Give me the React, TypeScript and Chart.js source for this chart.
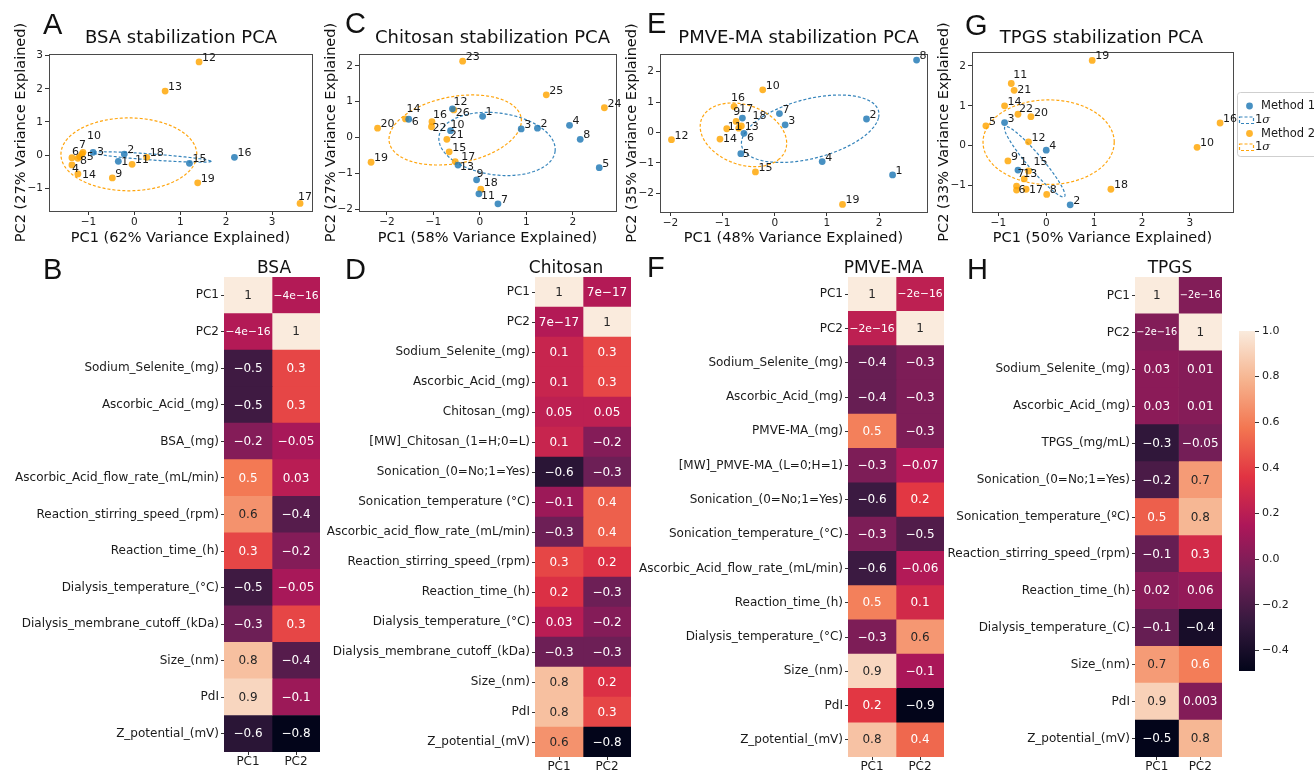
import React, { useEffect, useRef } from 'react';
import { Chart, registerables } from 'chart.js';

Chart.register(...registerables);

const FONT = '"DejaVu Sans", "Noto Sans", sans-serif';
const LETTER_FONT = '"Liberation Sans", Arial, sans-serif';
Chart.defaults.font.family = FONT;

const BLUE = 'rgba(31,119,180,0.82)';
const ORANGE = 'rgba(255,165,0,0.82)';
const BLUE_DASH = 'rgba(31,119,180,0.9)';
const ORANGE_DASH = 'rgba(255,160,0,0.95)';
const TEXT = '#1a1a1a';

// ================= PCA scatter data =================
// BSA
const bsaM1Ids = ['1', '2', '3', '15', '16'];
const bsaM1X = [-0.35, -0.22, -0.9, 1.2, 2.18];
const bsaM1Y = [-0.19, 0.03, 0.08, -0.25, -0.07];
const bsaM2Ids = ['4', '5', '6', '7', '8', '9', '10', '11', '12', '13', '14', '17', '18', '19'];
const bsaM2X = [-1.36, -1.19, -1.36, -1.12, -1.23, -0.48, -1.14, -0.05, 1.41, 0.67, -1.23, 3.61, 0.27, 1.38];
const bsaM2Y = [-0.3, -0.05, -0.08, 0.08, -0.1, -0.69, 0.03, -0.28, 2.81, 1.93, -0.57, -1.46, -0.07, -0.84];
const bsaSigma1 = [0.385, -0.06, 1.285, -0.13, 0, 0.09];
const bsaSigma2 = [-0.12, 0.02, 1.48, 0, 0, 1.1];

// Chitosan
const chiM1Ids = ['1', '2', '3', '4', '5', '6', '7', '8', '9', '10', '11', '12', '13'];
const chiM1X = [0.06, 1.24, 0.89, 1.93, 2.57, -1.53, 0.39, 2.16, -0.07, -0.63, -0.02, -0.59, -0.47];
const chiM1Y = [0.59, 0.26, 0.24, 0.34, -0.84, 0.51, -1.85, -0.05, -1.18, 0.19, -1.57, 0.8, -0.77];
const chiM2Ids = ['14', '15', '16', '17', '18', '19', '20', '21', '22', '23', '24', '25', '26'];
const chiM2X = [-1.6, -0.66, -1.03, -0.53, 0.02, -2.34, -2.2, -0.71, -1.04, -0.37, 2.68, 1.43, -0.56];
const chiM2Y = [0.52, -0.4, 0.44, -0.67, -1.44, -0.69, 0.26, -0.05, 0.3, 2.13, 0.83, 1.19, 0.77];
const chiSigma1 = [0.37, -0.18, 1.25, -0.195, -0.065, -0.86];
const chiSigma2 = [-0.53, 0.21, 1.42, 0.33, 0.11, -0.92];

// PMVE-MA
const pmvM1Ids = ['1', '2', '3', '4', '5', '6', '7', '8', '18'];
const pmvM1X = [2.26, 1.76, 0.2, 0.91, -0.65, -0.59, 0.09, 2.72, -0.62];
const pmvM1Y = [-1.4, 0.44, 0.25, -0.96, -0.7, -0.03, 0.62, 2.38, 0.47];
const pmvM2Ids = ['9', '10', '11', '12', '13', '14', '15', '16', '17', '19'];
const pmvM2X = [-0.74, -0.23, -0.92, -1.98, -0.69, -1.05, -0.37, -0.78, -0.64, 1.3];
const pmvM2Y = [0.36, 1.4, 0.12, -0.24, 0.14, -0.22, -1.3, 0.85, 0.21, -2.37];
const pmvSigma1 = [0.68, 0.12, 1.31, 0.36, -0.15, -1.05];
const pmvSigma2 = [-0.6, -0.08, 0.69, -0.79, -0.46, -0.69];

// TPGS
const tpgM1Ids = ['1', '2', '3', '4'];
const tpgM1X = [-0.59, 0.5, -0.87, 0.0];
const tpgM1Y = [-0.61, -1.48, 0.58, -0.11];
const tpgM2Ids = ['5', '6', '7', '8', '9', '10', '11', '12', '13', '14', '15', '16', '17', '18', '19', '20', '21', '22'];
const tpgM2X = [-1.26, -0.62, -0.62, 0.01, -0.8, 3.15, -0.73, -0.37, -0.46, -0.87, -0.37, 3.63, -0.42, 1.35, 0.96, -0.32, -0.67, -0.59];
const tpgM2Y = [0.5, -1.11, -1.01, -1.22, -0.38, -0.04, 1.56, 0.1, -0.83, 1.0, -0.63, 0.57, -1.09, -1.09, 2.14, 0.73, 1.39, 0.79];
const tpgSigma1 = [-0.24, -0.4, 0.62, -0.875, 0.12, 0.12];
const tpgSigma2 = [0.05, 0.09, 1.37, 0, 0, 1.06];

// label nudges (pixels) for crowded point labels
const bsaNudge: Record<string, number[]> = { '6': [0, -3], '7': [-4, -4], '10': [5, -15], '5': [7, 3], '8': [2, 6], '4': [0, 7], '14': [4, 4], '17': [-2, -3], '1': [3, 4], '3': [4, 3] };
const chiNudge: Record<string, number[]> = { '26': [2, 6], '16': [1, -4], '22': [1, 4], '14': [1, -7], '6': [3, 6], '10': [0, -3], '17': [6, -2], '13': [2, 5], '9': [0, -3], '18': [3, -3], '11': [2, 5], '12': [1, -4] };
const pmvNudge: Record<string, number[]> = { '16': [-3, -6], '9': [-3, -6], '17': [-2, -14], '18': [10, 1], '11': [1, 1], '13': [6, 2], '6': [3, 8], '14': [3, 3], '5': [2, 3] };
const tpgNudge: Record<string, number[]> = { '11': [2, -6], '21': [3, 3], '22': [1, -2], '1': [2, -5], '15': [5, -6], '13': [-1, -2], '7': [1, -9], '6': [2, 3], '17': [3, 4] };

// ================= Heatmap data =================
const heatCols = ['PC1', 'PC2'];

const bsaRows = ['PC1', 'PC2', 'Sodium_Selenite_(mg)', 'Ascorbic_Acid_(mg)', 'BSA_(mg)', 'Ascorbic_Acid_flow_rate_(mL/min)', 'Reaction_stirring_speed_(rpm)', 'Reaction_time_(h)', 'Dialysis_temperature_(°C)', 'Dialysis_membrane_cutoff_(kDa)', 'Size_(nm)', 'PdI', 'Z_potential_(mV)'];
const bsaPC1 = [1, -4e-16, -0.5, -0.5, -0.2, 0.5, 0.6, 0.3, -0.5, -0.3, 0.8, 0.9, -0.6];
const bsaPC2 = [-4e-16, 1, 0.3, 0.3, -0.05, 0.03, -0.4, -0.2, -0.05, 0.3, -0.4, -0.1, -0.8];

const chiRows = ['PC1', 'PC2', 'Sodium_Selenite_(mg)', 'Ascorbic_Acid_(mg)', 'Chitosan_(mg)', '[MW]_Chitosan_(1=H;0=L)', 'Sonication_(0=No;1=Yes)', 'Sonication_temperature (°C)', 'Ascorbic_acid_flow_rate_(mL/min)', 'Reaction_stirring_speed_(rpm)', 'Reaction_time_(h)', 'Dialysis_temperature_(°C)', 'Dialysis_membrane_cutoff_(kDa)', 'Size_(nm)', 'PdI', 'Z_potential_(mV)'];
const chiPC1 = [1, 7e-17, 0.1, 0.1, 0.05, 0.1, -0.6, -0.1, -0.3, 0.3, 0.2, 0.03, -0.3, 0.8, 0.8, 0.6];
const chiPC2 = [7e-17, 1, 0.3, 0.3, 0.05, -0.2, -0.3, 0.4, 0.4, 0.2, -0.3, -0.2, -0.3, 0.2, 0.3, -0.8];

const pmvRows = ['PC1', 'PC2', 'Sodium_Selenite_(mg)', 'Ascorbic_Acid_(mg)', 'PMVE-MA_(mg)', '[MW]_PMVE-MA_(L=0;H=1)', 'Sonication_(0=No;1=Yes)', 'Sonication_temperature_(°C)', 'Ascorbic_Acid_flow_rate_(mL/min)', 'Reaction_time_(h)', 'Dialysis_temperature_(°C)', 'Size_(nm)', 'PdI', 'Z_potential_(mV)'];
const pmvPC1 = [1, -2e-16, -0.4, -0.4, 0.5, -0.3, -0.6, -0.3, -0.6, 0.5, -0.3, 0.9, 0.2, 0.8];
const pmvPC2 = [-2e-16, 1, -0.3, -0.3, -0.3, -0.07, 0.2, -0.5, -0.06, 0.1, 0.6, -0.1, -0.9, 0.4];

const tpgRows = ['PC1', 'PC2', 'Sodium_Selenite_(mg)', 'Ascorbic_Acid_(mg)', 'TPGS_(mg/mL)', 'Sonication_(0=No;1=Yes)', 'Sonication_temperature_(ºC)', 'Reaction_stirring_speed_(rpm)', 'Reaction_time_(h)', 'Dialysis_temperature_(C)', 'Size_(nm)', 'PdI', 'Z_potential_(mV)'];
const tpgPC1 = [1, -2e-16, 0.03, 0.03, -0.3, -0.2, 0.5, -0.1, 0.02, -0.1, 0.7, 0.9, -0.49];
const tpgPC2 = [-2e-16, 1, 0.01, 0.01, -0.05, 0.7, 0.8, 0.3, 0.06, -0.4, 0.6, 0.003, 0.8];

const cbTicks = [-0.4, -0.2, 0.0, 0.2, 0.4, 0.6, 0.8, 1.0];

// ================= helpers =================
const ROCKET = ['#03051a', '#35193e', '#701f57', '#ad1759', '#e13342', '#f37651', '#f6b48f', '#faebdd'];
const hexRgb = (h: string) => [parseInt(h.slice(1, 3), 16), parseInt(h.slice(3, 5), 16), parseInt(h.slice(5, 7), 16)];
const ROCKET_RGB = ROCKET.map(hexRgb);
function rocket(t: number): number[] {
  const tt = Math.max(0, Math.min(1, t)) * (ROCKET_RGB.length - 1);
  const i = Math.min(ROCKET_RGB.length - 2, Math.floor(tt));
  const f = tt - i;
  const a = ROCKET_RGB[i], b = ROCKET_RGB[i + 1];
  return [0, 1, 2].map((k) => Math.round(a[k] + (b[k] - a[k]) * f));
}
const css = (c: number[]) => `rgb(${c[0]},${c[1]},${c[2]})`;
function relLum(c: number[]) {
  const f = (v: number) => { v /= 255; return v <= 0.03928 ? v / 12.92 : Math.pow((v + 0.055) / 1.055, 2.4); };
  return 0.2126 * f(c[0]) + 0.7152 * f(c[1]) + 0.0722 * f(c[2]);
}
function fmt1g(v: number) {
  if (v === 0) return '0';
  const s = Math.abs(v) < 1e-4 ? v.toExponential(0) : String(Number(v.toPrecision(1)));
  return s.replace(/-/g, '\u2212');
}
const fmtTick = (v: any) => String(v).replace('-', '\u2212');

type Box = { left: number; top: number; width: number; height: number };
type Area = { left: number; top: number; right: number; bottom: number };

interface PcaSpec {
  box: Box; area: Area;
  xr: number[]; yr: number[];
  xlabel: string; ylabel: string;
  m1Ids: string[]; m1X: number[]; m1Y: number[];
  m2Ids: string[]; m2X: number[]; m2Y: number[];
  s1: number[]; s2: number[];
  nudge: Record<string, number[]>;
  legend?: boolean;
}

function pcaConfig(s: PcaSpec): any {
  const { box, area } = s;
  const framePlugin = {
    id: 'frame',
    beforeDatasetsDraw(chart: any) {
      const { ctx, chartArea: ca } = chart;
      ctx.save();
      ctx.strokeStyle = '#4a4a4a';
      ctx.lineWidth = 1;
      ctx.strokeRect(Math.round(ca.left) + 0.5, Math.round(ca.top) + 0.5, Math.round(ca.right - ca.left), Math.round(ca.bottom - ca.top));
      ctx.restore();
    },
  };
  const ellipsePlugin = {
    id: 'sigma',
    beforeDatasetsDraw(chart: any) {
      const { ctx } = chart;
      const xs = chart.scales.x, ys = chart.scales.y;
      ctx.save();
      ctx.lineWidth = 1.2;
      ctx.setLineDash([3, 2]);
      ([[s.s1, BLUE_DASH], [s.s2, ORANGE_DASH]] as any[]).forEach(([e, col]) => {
        ctx.strokeStyle = col;
        ctx.beginPath();
        for (let k = 0; k <= 180; k++) {
          const t = (k / 180) * Math.PI * 2;
          const X = e[0] + e[2] * Math.cos(t) + e[4] * Math.sin(t);
          const Y = e[1] + e[3] * Math.cos(t) + e[5] * Math.sin(t);
          const px = xs.getPixelForValue(X), py = ys.getPixelForValue(Y);
          if (k === 0) ctx.moveTo(px, py); else ctx.lineTo(px, py);
        }
        ctx.closePath();
        ctx.stroke();
      });
      ctx.restore();
    },
  };
  const labelPlugin = {
    id: 'ptLabels',
    afterDatasetsDraw(chart: any) {
      const { ctx } = chart;
      ctx.save();
      ctx.font = `11px ${FONT}`;
      ctx.fillStyle = TEXT;
      ctx.textAlign = 'left';
      ctx.textBaseline = 'alphabetic';
      [s.m1Ids, s.m2Ids].forEach((ids, d) => {
        chart.getDatasetMeta(d).data.forEach((el: any, i: number) => {
          const n = s.nudge[ids[i]] || [3, -1];
          ctx.fillText(ids[i], el.x + n[0], el.y + n[1]);
        });
      });
      ctx.restore();
    },
  };
  const legendPlugin = {
    id: 'customLegend',
    afterDraw(chart: any) {
      if (!s.legend) return;
      const { ctx } = chart;
      const ox = box.left, oy = box.top;
      ctx.save();
      ctx.translate(-ox, -oy);
      ctx.fillStyle = 'rgba(255,255,255,0.9)';
      ctx.strokeStyle = '#cfcfcf';
      ctx.lineWidth = 1;
      const bx = 1237.5, by = 92.5, bw = 90, bh = 64, r = 3;
      ctx.beginPath();
      ctx.moveTo(bx + r, by); ctx.lineTo(bx + bw - r, by); ctx.arcTo(bx + bw, by, bx + bw, by + r, r);
      ctx.lineTo(bx + bw, by + bh - r); ctx.arcTo(bx + bw, by + bh, bx + bw - r, by + bh, r);
      ctx.lineTo(bx + r, by + bh); ctx.arcTo(bx, by + bh, bx, by + bh - r, r);
      ctx.lineTo(bx, by + r); ctx.arcTo(bx, by, bx + r, by, r);
      ctx.closePath(); ctx.fill(); ctx.stroke();
      const items = [
        { kind: 'dot', col: BLUE, text: 'Method 1', y: 106 },
        { kind: 'box', col: BLUE_DASH, text: '1', y: 120 },
        { kind: 'dot', col: ORANGE, text: 'Method 2', y: 133.5 },
        { kind: 'box', col: ORANGE_DASH, text: '1', y: 147 },
      ];
      ctx.textBaseline = 'middle';
      ctx.textAlign = 'left';
      items.forEach((it) => {
        if (it.kind === 'dot') {
          ctx.fillStyle = it.col;
          ctx.beginPath(); ctx.arc(1249.5, it.y, 3.4, 0, Math.PI * 2); ctx.fill();
          ctx.fillStyle = TEXT;
          ctx.font = `11.5px ${FONT}`;
          ctx.fillText(it.text, 1261, it.y + 0.5);
        } else {
          ctx.strokeStyle = it.col; ctx.lineWidth = 1.2; ctx.setLineDash([3, 2]);
          ctx.strokeRect(1239.5, it.y - 3, 14, 6.5);
          ctx.setLineDash([]);
          ctx.fillStyle = TEXT;
          ctx.font = `11.5px ${FONT}`;
          ctx.fillText('1', 1255, it.y + 0.5);
          const w = ctx.measureText('1').width;
          ctx.font = `italic 11.5px "DejaVu Serif", serif`;
          ctx.fillText('\u03c3', 1255 + w, it.y + 0.5);
        }
      });
      ctx.restore();
    },
  };
  const tickFont = { family: FONT, size: 10.5 };
  const titleFont = { family: FONT, size: 14.5 };
  return {
    type: 'scatter',
    data: {
      datasets: [
        { label: 'Method 1', data: s.m1Ids.map((_, i) => ({ x: s.m1X[i], y: s.m1Y[i] })), backgroundColor: BLUE, borderWidth: 0, pointRadius: 3.4 },
        { label: 'Method 2', data: s.m2Ids.map((_, i) => ({ x: s.m2X[i], y: s.m2Y[i] })), backgroundColor: ORANGE, borderWidth: 0, pointRadius: 3.4 },
      ],
    },
    options: {
      responsive: false,
      animation: false,
      devicePixelRatio: 1,
      layout: { padding: { left: 0, top: area.top - box.top, right: box.left + box.width - area.right, bottom: 0 } },
      plugins: { legend: { display: false }, tooltip: { enabled: false } },
      scales: {
        x: {
          type: 'linear', min: s.xr[0], max: s.xr[1],
          afterFit: (sc: any) => { sc.height = box.top + box.height - area.bottom; },
          ticks: { stepSize: 1, includeBounds: false, font: tickFont, color: '#222', padding: 1, callback: fmtTick, maxRotation: 0 },
          grid: { drawOnChartArea: false, tickLength: 4, color: '#333' },
          border: { display: false },
          title: { display: true, text: s.xlabel, font: titleFont, color: '#111', padding: { top: 0, bottom: 3 } },
        },
        y: {
          type: 'linear', min: s.yr[0], max: s.yr[1],
          afterFit: (sc: any) => { sc.width = area.left - box.left; },
          ticks: { stepSize: 1, includeBounds: false, font: tickFont, color: '#222', padding: 2, callback: fmtTick },
          grid: { drawOnChartArea: false, tickLength: 4, color: '#333' },
          border: { display: false },
          title: { display: true, text: s.ylabel, font: titleFont, color: '#111', padding: { top: 13, bottom: 0 } },
        },
      },
    },
    plugins: [framePlugin, ellipsePlugin, labelPlugin, legendPlugin],
  };
}

interface HeatSpec { box: Box; area: Area; rows: string[]; pc1: number[]; pc2: number[] }

function heatConfig(h: HeatSpec): any {
  const { box, area } = h;
  const vals = [h.pc1, h.pc2];
  const vmin = Math.min(...h.pc1, ...h.pc2);
  const vmax = Math.max(...h.pc1, ...h.pc2);
  const colorOf = (v: number) => rocket((v - vmin) / (vmax - vmin));
  const annotPlugin = {
    id: 'annot',
    afterDatasetsDraw(chart: any) {
      const { ctx } = chart;
      const xs = chart.scales.x;
      const cw = Math.abs(xs.getPixelForValue(1) - xs.getPixelForValue(0));
      ctx.save();
      ctx.textAlign = 'center';
      ctx.textBaseline = 'middle';
      vals.forEach((arr, d) => {
        chart.getDatasetMeta(d).data.forEach((el: any, i: number) => {
          const c = colorOf(arr[i]);
          const txt = fmt1g(arr[i]);
          let size = 12;
          ctx.font = `${size}px ${FONT}`;
          const w = ctx.measureText(txt).width;
          if (w > cw * 0.94) {
            size = (size * cw * 0.94) / w;
            ctx.font = `${size}px ${FONT}`;
          }
          ctx.fillStyle = relLum(c) > 0.408 ? '#262626' : '#ffffff';
          const p = el.getCenterPoint();
          ctx.fillText(txt, p.x, p.y + 0.5);
        });
      });
      ctx.restore();
    },
  };
  return {
    type: 'bar',
    data: {
      labels: h.rows,
      datasets: vals.map((arr, d) => ({
        label: heatCols[d],
        data: arr.map(() => 1),
        backgroundColor: arr.map((v) => css(colorOf(v))),
        borderWidth: 0,
        barPercentage: 1,
        categoryPercentage: 1,
      })),
    },
    options: {
      indexAxis: 'y',
      responsive: false,
      animation: false,
      devicePixelRatio: 1,
      layout: { padding: { left: 0, top: area.top - box.top, right: box.left + box.width - area.right, bottom: 0 } },
      plugins: { legend: { display: false }, tooltip: { enabled: false } },
      scales: {
        x: {
          type: 'linear', stacked: true, min: 0, max: 2,
          afterBuildTicks: (sc: any) => { sc.ticks = [{ value: 0.5 }, { value: 1.5 }]; },
          afterFit: (sc: any) => { sc.height = box.top + box.height - area.bottom; },
          ticks: { callback: (v: any) => heatCols[v < 1 ? 0 : 1], font: { family: FONT, size: 12 }, color: TEXT, padding: 0, maxRotation: 0, autoSkip: false },
          grid: { drawOnChartArea: false, tickLength: 3, color: '#333' },
          border: { display: false },
        },
        y: {
          type: 'category', stacked: true,
          afterFit: (sc: any) => { sc.width = area.left - box.left; },
          ticks: { font: { family: FONT, size: 12 }, color: TEXT, padding: 2, autoSkip: false },
          grid: { drawOnChartArea: false, offset: false, tickLength: 3, color: '#333' },
          border: { display: false },
        },
      },
    },
    plugins: [annotPlugin],
  };
}

function colorbarConfig(): any {
  const cbMin = Math.min(...tpgPC1, ...tpgPC2);
  const cbMax = Math.max(...tpgPC1, ...tpgPC2);
  return {
    type: 'bar',
    data: {
      labels: ['colorbar'],
      datasets: [{
        data: [[cbMin, cbMax]],
        borderWidth: 0,
        barPercentage: 1,
        categoryPercentage: 1,
        backgroundColor: (c: any) => {
          const chart = c.chart;
          if (!chart.chartArea) return '#000';
          const ys = chart.scales.y;
          const g = chart.ctx.createLinearGradient(0, ys.getPixelForValue(cbMin), 0, ys.getPixelForValue(cbMax));
          ROCKET.forEach((col, i) => g.addColorStop(i / (ROCKET.length - 1), col));
          return g;
        },
      }],
    },
    options: {
      responsive: false,
      animation: false,
      devicePixelRatio: 1,
      layout: { padding: { left: 9, top: 12, right: 0, bottom: 12 } },
      plugins: { legend: { display: false }, tooltip: { enabled: false } },
      scales: {
        x: { display: false },
        y: {
          position: 'right', min: cbMin, max: cbMax,
          afterBuildTicks: (sc: any) => { sc.ticks = cbTicks.map((v) => ({ value: v })); },
          afterFit: (sc: any) => { sc.width = 59; },
          ticks: { callback: (v: any) => Number(v).toFixed(1).replace('-', '\u2212'), font: { family: FONT, size: 11 }, color: TEXT, padding: 3 },
          grid: { drawOnChartArea: false, tickLength: 4, color: '#333' },
          border: { display: false },
        },
      },
    },
  };
}

const pcaSpecs: PcaSpec[] = [
  { box: { left: 0, top: 0, width: 330, height: 250 }, area: { left: 49, top: 54, right: 312, bottom: 211 }, xr: [-1.86, 3.87], yr: [-1.69, 3.05], xlabel: 'PC1 (62% Variance Explained)', ylabel: 'PC2 (27% Variance Explained)', m1Ids: bsaM1Ids, m1X: bsaM1X, m1Y: bsaM1Y, m2Ids: bsaM2Ids, m2X: bsaM2X, m2Y: bsaM2Y, s1: bsaSigma1, s2: bsaSigma2, nudge: bsaNudge },
  { box: { left: 310, top: 0, width: 320, height: 250 }, area: { left: 359, top: 54, right: 616, bottom: 211 }, xr: [-2.6, 2.93], yr: [-2.05, 2.33], xlabel: 'PC1 (58% Variance Explained)', ylabel: 'PC2 (27% Variance Explained)', m1Ids: chiM1Ids, m1X: chiM1X, m1Y: chiM1Y, m2Ids: chiM2Ids, m2X: chiM2X, m2Y: chiM2Y, s1: chiSigma1, s2: chiSigma2, nudge: chiNudge },
  { box: { left: 611, top: 0, width: 330, height: 250 }, area: { left: 660, top: 54, right: 927, bottom: 212 }, xr: [-2.2, 2.92], yr: [-2.62, 2.58], xlabel: 'PC1 (48% Variance Explained)', ylabel: 'PC2 (35% Variance Explained)', m1Ids: pmvM1Ids, m1X: pmvM1X, m1Y: pmvM1Y, m2Ids: pmvM2Ids, m2X: pmvM2X, m2Y: pmvM2Y, s1: pmvSigma1, s2: pmvSigma2, nudge: pmvNudge },
  { box: { left: 923, top: 0, width: 391, height: 250 }, area: { left: 972, top: 52, right: 1233, bottom: 212 }, xr: [-1.55, 3.9], yr: [-1.66, 2.35], xlabel: 'PC1 (50% Variance Explained)', ylabel: 'PC2 (33% Variance Explained)', m1Ids: tpgM1Ids, m1X: tpgM1X, m1Y: tpgM1Y, m2Ids: tpgM2Ids, m2X: tpgM2X, m2Y: tpgM2Y, s1: tpgSigma1, s2: tpgSigma2, nudge: tpgNudge, legend: true },
];

const heatSpecs: HeatSpec[] = [
  { box: { left: 0, top: 263, width: 330, height: 520 }, area: { left: 224, top: 277, right: 320, bottom: 752 }, rows: bsaRows, pc1: bsaPC1, pc2: bsaPC2 },
  { box: { left: 310, top: 263, width: 330, height: 520 }, area: { left: 535, top: 277, right: 631, bottom: 757 }, rows: chiRows, pc1: chiPC1, pc2: chiPC2 },
  { box: { left: 630, top: 263, width: 320, height: 520 }, area: { left: 848, top: 277, right: 944, bottom: 757 }, rows: pmvRows, pc1: pmvPC1, pc2: pmvPC2 },
  { box: { left: 940, top: 263, width: 290, height: 520 }, area: { left: 1135, top: 277, right: 1222, bottom: 757 }, rows: tpgRows, pc1: tpgPC1, pc2: tpgPC2 },
];
const cbBox: Box = { left: 1230, top: 319, width: 84, height: 364 };

const scatterTitles = [
  { text: 'BSA stabilization PCA', x: 181, y: 37 },
  { text: 'Chitosan stabilization PCA', x: 492.5, y: 37 },
  { text: 'PMVE-MA stabilization PCA', x: 798.5, y: 37 },
  { text: 'TPGS stabilization PCA', x: 1101.5, y: 37 },
];
const heatTitles = [
  { text: 'BSA', x: 274, y: 267 },
  { text: 'Chitosan', x: 566, y: 267 },
  { text: 'PMVE-MA', x: 883.5, y: 267 },
  { text: 'TPGS', x: 1170, y: 267 },
];
const panelLetters = [
  { text: 'A', x: 43, y: 24 }, { text: 'C', x: 345, y: 23 }, { text: 'E', x: 647, y: 23 }, { text: 'G', x: 965, y: 25 },
  { text: 'B', x: 43, y: 269 }, { text: 'D', x: 345, y: 269 }, { text: 'F', x: 647, y: 267 }, { text: 'H', x: 967, y: 269 },
];

function ChartCanvas({ box, make }: { box: Box; make: () => any }) {
  const ref = useRef<HTMLCanvasElement>(null);
  useEffect(() => {
    const chart = new Chart(ref.current as HTMLCanvasElement, make());
    return () => chart.destroy();
  }, []);
  return (
    <canvas
      ref={ref}
      width={box.width}
      height={box.height}
      style={{ position: 'absolute', left: box.left, top: box.top, width: box.width, height: box.height }}
    />
  );
}

function Label({ text, x, y, size, family, center }: { text: string; x: number; y: number; size: number; family: string; center: boolean }) {
  return (
    <div
      style={{
        position: 'absolute', left: x, top: y, fontSize: size, lineHeight: 1, fontFamily: family,
        whiteSpace: 'nowrap', color: '#111', transform: center ? 'translate(-50%, -50%)' : 'translate(0, -50%)',
      }}
    >
      {text}
    </div>
  );
}

export default function App() {
  return (
    <div style={{ position: 'absolute', left: 0, top: 0, width: 1314, height: 771, overflow: 'hidden', background: '#ffffff' }}>
      {pcaSpecs.map((s, i) => (
        <ChartCanvas key={'pca' + i} box={s.box} make={() => pcaConfig(s)} />
      ))}
      {heatSpecs.map((h, i) => (
        <ChartCanvas key={'heat' + i} box={h.box} make={() => heatConfig(h)} />
      ))}
      <ChartCanvas box={cbBox} make={colorbarConfig} />
      {scatterTitles.map((t, i) => (
        <Label key={'st' + i} text={t.text} x={t.x} y={t.y} size={18} family={FONT} center />
      ))}
      {heatTitles.map((t, i) => (
        <Label key={'ht' + i} text={t.text} x={t.x} y={t.y} size={17} family={FONT} center />
      ))}
      {panelLetters.map((t, i) => (
        <Label key={'pl' + i} text={t.text} x={t.x} y={t.y} size={29} family={LETTER_FONT} center={false} />
      ))}
    </div>
  );
}
